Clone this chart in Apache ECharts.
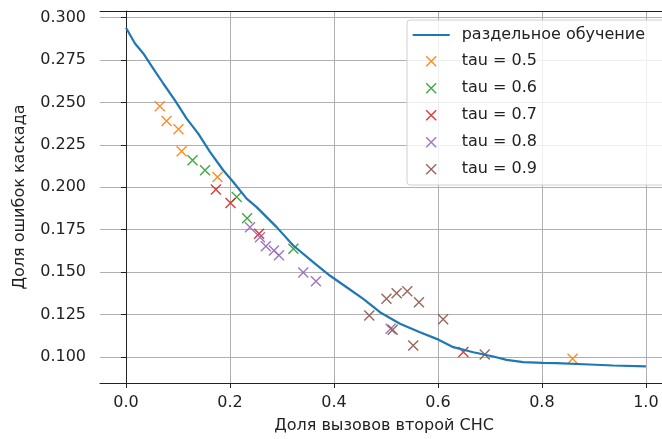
<!DOCTYPE html>
<html>
<head>
<meta charset="utf-8">
<script src="https://cdn.jsdelivr.net/npm/echarts@6/dist/echarts.min.js"></script>
<style>
  html, body { margin: 0; padding: 0; background: #fff; }
  #main { width: 662px; height: 439px; }
</style>
</head>
<body>
<div id="main"></div>
<script>
// separate training curve
var lineX = [0, 0.0173, 0.0333, 0.0525, 0.0717, 0.0942, 0.1167, 0.139, 0.1615, 0.187,
             0.2063, 0.232, 0.2513, 0.2898, 0.3217, 0.36, 0.392, 0.4244, 0.4564, 0.4885,
             0.527, 0.5654, 0.5975, 0.6295, 0.668, 0.7065, 0.732, 0.764, 0.8025, 0.828,
             0.892, 0.937, 1.0];
var lineY = [0.2939, 0.2847, 0.2788, 0.2699, 0.2611, 0.2512, 0.2404, 0.2316, 0.2208, 0.21,
             0.2031, 0.1933, 0.1883, 0.1765, 0.1657, 0.1559, 0.148, 0.1411, 0.1343, 0.1264,
             0.1196, 0.1146, 0.1107, 0.1058, 0.1028, 0.1003, 0.0983, 0.097, 0.0966, 0.0964,
             0.0956, 0.095, 0.0945];

// cascade points per tau
var tau05 = [[0.065, 0.2477], [0.078, 0.239], [0.101, 0.2341], [0.107, 0.2212], [0.176, 0.206], [0.859, 0.099]];
var tau06 = [[0.128, 0.2159], [0.152, 0.21], [0.213, 0.1942], [0.233, 0.1818], [0.322, 0.1638]];
var tau07 = [[0.173, 0.1986], [0.201, 0.1907], [0.256, 0.1726], [0.649, 0.103]];
var tau08 = [[0.2385, 0.1765], [0.2577, 0.1706], [0.269, 0.1652], [0.2846, 0.1628], [0.2942, 0.1599],
             [0.341, 0.1498], [0.3654, 0.1446], [0.509, 0.1166]];
var tau09 = [[0.468, 0.1245], [0.501, 0.1343], [0.5206, 0.1376], [0.541, 0.1388], [0.5635, 0.1323],
             [0.513, 0.116], [0.5525, 0.1068], [0.61, 0.1222], [0.69, 0.1015]];

var xTicks = [0, 0.2, 0.4, 0.6, 0.8, 1.0];
var yTicks = [0.1, 0.125, 0.15, 0.175, 0.2, 0.225, 0.25, 0.275, 0.3];

var lineName = 'раздельное обучение';
var tauNames = ['tau = 0.5', 'tau = 0.6', 'tau = 0.7', 'tau = 0.8', 'tau = 0.9'];
var tauData = [tau05, tau06, tau07, tau08, tau09];
var tauColors = ['#ff7f0e', '#2ca02c', '#d62728', '#9467bd', '#8c564b'];

var font = 'DejaVu Sans';
var crossPath = 'path://M0,0L10,10M10,0L0,10';
var crossIcon = 'path://M0,0M37,16M13.5,3L23.5,13M23.5,3L13.5,13';
var lineIcon = 'path://M0,0M37,16M0,7L37,7L37,9L0,9Z';
var xMin = -0.05, xMax = 1.031;

var Mychart = echarts.init(document.getElementById('main'));

var series = [{
    name: lineName,
    type: 'line',
    data: lineX.map(function (x, i) { return [x, lineY[i]]; }),
    symbol: 'none',
    lineStyle: { color: '#1f77b4', width: 2.2 },
    itemStyle: { color: '#1f77b4' }
}];
tauNames.forEach(function (name, k) {
    series.push({
        name: name,
        type: 'scatter',
        data: tauData[k],
        symbol: crossPath,
        symbolSize: 10,
        itemStyle: {
            color: tauColors[k],
            borderColor: tauColors[k],
            borderWidth: 1.4,
            opacity: 0.9
        }
    });
});

var legendData = [{ name: lineName, icon: lineIcon, itemStyle: { color: '#1f77b4', borderWidth: 0 } }];
tauNames.forEach(function (name, k) {
    legendData.push({
        name: name,
        icon: crossIcon,
        itemStyle: { color: tauColors[k], borderColor: tauColors[k], borderWidth: 1.4 }
    });
});

option = {
    backgroundColor: '#fff',
    animation: false,
    grid: {
        left: 100,
        top: 11,
        right: 0,
        bottom: 56,
        containLabel: false
    },
    legend: {
        data: legendData,
        orient: 'vertical',
        left: 407,
        top: 20,
        padding: [7, 20, 7, 5],
        itemWidth: 37,
        itemHeight: 16,
        itemGap: 9.6,
        backgroundColor: 'rgba(255,255,255,0.8)',
        borderColor: '#d0d0d0',
        borderWidth: 1,
        borderRadius: 3,
        textStyle: { fontFamily: font, fontSize: 16, color: '#222', padding: [0, 0, 0, 7] }
    },
    xAxis: [{
        type: 'value',
        min: xMin,
        max: xMax,
        name: 'Доля вызовов второй СНС',
        nameLocation: 'middle',
        nameGap: 35,
        nameTextStyle: { fontFamily: font, fontSize: 16, color: '#222', padding: [0, 0, 0, 6] },
        axisLine: { lineStyle: { color: '#222' } },
        axisTick: { show: true, length: 5, customValues: xTicks, lineStyle: { color: '#222' } },
        axisLabel: {
            customValues: xTicks,
            margin: 12,
            fontFamily: font, fontSize: 16, color: '#222',
            formatter: function (v) { return v.toFixed(1); }
        },
        splitLine: { show: true, lineStyle: { color: '#b0b0b0', width: 1 } }
    }, {
        // top spine only
        type: 'value',
        position: 'top',
        min: xMin,
        max: xMax,
        axisLine: { show: true, lineStyle: { color: '#222' } },
        axisTick: { show: false },
        axisLabel: { show: false },
        splitLine: { show: false }
    }],
    yAxis: {
        type: 'value',
        min: 0.0847,
        max: 0.3038,
        name: 'Доля ошибок каскада',
        nameLocation: 'middle',
        nameGap: 72,
        nameTextStyle: { fontFamily: font, fontSize: 16, color: '#222' },
        axisLine: { show: true, lineStyle: { color: '#222' } },
        axisTick: { show: true, length: 5, customValues: yTicks, lineStyle: { color: '#222' } },
        axisLabel: {
            customValues: yTicks,
            margin: 14,
            fontFamily: font, fontSize: 16, color: '#222',
            formatter: function (v) { return v.toFixed(3); }
        },
        splitLine: { show: true, lineStyle: { color: '#b0b0b0', width: 1 } }
    },
    series: series
};
Mychart.setOption(option);
</script>
</body>
</html>
